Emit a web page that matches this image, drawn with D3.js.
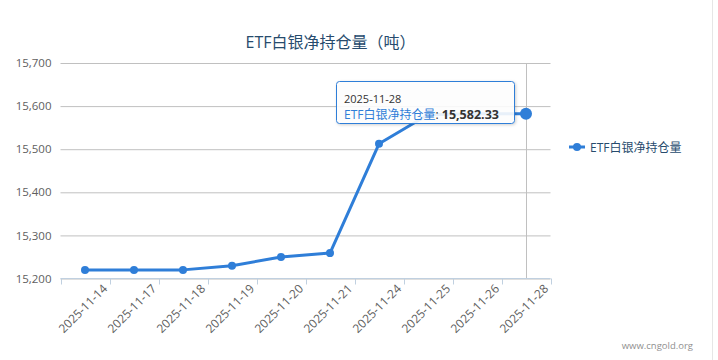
<!DOCTYPE html>
<html><head><meta charset="utf-8">
<script src="https://cdn.jsdelivr.net/npm/d3@7"></script>
<style>
html,body{margin:0;padding:0;background:#fff;}
svg{display:block;}
</style>
</head><body>
<svg id="chart" width="718" height="360"></svg>
<script>
const categories = ["2025-11-14","2025-11-17","2025-11-18","2025-11-19","2025-11-20","2025-11-21","2025-11-24","2025-11-25","2025-11-26","2025-11-28"];
const values = [15220.0, 15220.0, 15220.0, 15229.5, 15250.0, 15259.0, 15512.5, 15580.0, 15582.33, 15582.33];
const yTicks = [15200, 15300, 15400, 15500, 15600, 15700];
const seriesName = "ETF白银净持仓量";
const titleText = "ETF白银净持仓量（吨）";
const hoverIndex = 9;

const latin = "'Segoe UI', 'Open Sans', 'Liberation Sans', Arial, sans-serif";
const cjk = "'Segoe UI', 'Open Sans', 'Noto Sans CJK SC', sans-serif";
const color = "#2f7ed8";

const svg = d3.select("#chart");
const m = {left: 60.5, right: 550.5, top: 63, bottom: 278.5};

const x = d3.scaleBand().domain(categories).range([m.left, m.right]);
const y = d3.scaleLinear().domain([15200, 15700]).range([m.bottom, m.top]);

// right border line
svg.append("line").attr("x1", 712.5).attr("x2", 712.5).attr("y1", 0).attr("y2", 360)
  .attr("stroke", "#e6e6e6").attr("stroke-width", 1);

// title
svg.append("text").attr("x", 330.5).attr("y", 48).attr("text-anchor", "middle")
  .style("font-family", cjk).style("font-size", "16px").style("fill", "#274b6d")
  .text(titleText);

// grid
const yAxis = d3.axisLeft(y).tickValues(yTicks).tickSize(-(m.right - m.left)).tickPadding(9)
  .tickFormat(d3.format(","));
const gy = svg.append("g").attr("transform", `translate(${m.left},0)`).call(yAxis);
gy.select(".domain").remove();
gy.selectAll(".tick line").attr("stroke", "#c0c0c0").attr("stroke-width", 1);
gy.selectAll(".tick text").style("font-family", latin).style("font-size", "11.5px").style("fill", "#606060");

// crosshair
const cx = Math.round(x(categories[hoverIndex]) + x.bandwidth()/2) + 0.5;
svg.append("line").attr("x1", cx).attr("x2", cx)
  .attr("y1", m.top).attr("y2", m.bottom).attr("stroke", "#c0c0c0").attr("stroke-width", 1);

// x axis
const xAxis = d3.axisBottom(x).tickSize(0).tickFormat("");
const gx = svg.append("g").attr("transform", `translate(0,${m.bottom})`).call(xAxis);
gx.select(".domain").attr("stroke", "#c0d0e0").attr("d", `M${m.left},0H${m.right}`);
// band boundary ticks
const bounds = categories.map(c => x(c)).concat([m.right]);
gx.selectAll("line.bt").data(bounds).enter().append("line").attr("class","bt")
  .attr("x1", d => Math.round(d) + 0.5).attr("x2", d => Math.round(d) + 0.5)
  .attr("y1", 0).attr("y2", 6).attr("stroke", "#c0d0e0");
gx.selectAll("text.xl").data(categories).enter().append("text").attr("class","xl")
  .attr("transform", d => `translate(${x(d) + x.bandwidth()/2 + 23},${11}) rotate(-45)`)
  .attr("text-anchor", "end")
  .style("font-family", latin).style("font-size", "12px").style("fill", "#606060")
  .text(d => d);

// line
const pts = categories.map((c, i) => ({c, v: values[i], i}));
const line = d3.line().x(d => x(d.c) + x.bandwidth()/2).y(d => y(d.v));
svg.append("path").datum(pts).attr("d", line).attr("fill", "none")
  .attr("stroke", color).attr("stroke-width", 3).attr("stroke-linejoin", "round");
svg.selectAll("circle.pt").data(pts).enter().append("circle").attr("class","pt")
  .attr("cx", d => x(d.c) + x.bandwidth()/2).attr("cy", d => y(d.v))
  .attr("r", d => d.i === hoverIndex ? 6 : 4).attr("fill", color);

// legend
const lg = svg.append("g");
lg.append("line").attr("x1", 569).attr("x2", 585).attr("y1", 147).attr("y2", 147)
  .attr("stroke", color).attr("stroke-width", 3);
lg.append("circle").attr("cx", 577).attr("cy", 147).attr("r", 4).attr("fill", color);
lg.append("text").attr("x", 590).attr("y", 151.5)
  .style("font-family", cjk).style("font-size", "12px").style("fill", "#274b6d").text(seriesName);

// tooltip
const defs = svg.append("defs");
const f = defs.append("filter").attr("id","sh").attr("x","-10%").attr("y","-20%").attr("width","130%").attr("height","160%");
f.append("feDropShadow").attr("dx",1).attr("dy",1).attr("stdDeviation",1.5).attr("flood-color","#000").attr("flood-opacity",0.2);
const tt = svg.append("g");
tt.append("rect").attr("x", 336.5).attr("y", 81.5).attr("width", 178).attr("height", 42).attr("rx", 3)
  .attr("fill", "rgba(255,255,255,0.88)").attr("stroke", color).attr("stroke-width", 1).attr("filter","url(#sh)");
tt.append("text").attr("x", 344).attr("y", 102.5).style("font-family", latin).style("font-size", "11px")
  .style("fill", "#333").text(categories[hoverIndex]);
const t2 = tt.append("text").attr("x", 344).attr("y", 119).style("font-family", cjk).style("font-size", "12px");
t2.append("tspan").style("fill", color).text(seriesName);
t2.append("tspan").style("fill", "#333").text(": ");
t2.append("tspan").style("fill", "#333").style("font-weight", "bold").style("font-size","12.5px")
  .text(d3.format(",.2f")(values[hoverIndex]));

// credits
svg.append("text").attr("x", 693).attr("y", 349).attr("text-anchor", "end")
  .style("font-family", latin).style("font-size", "9.5px").style("fill", "#909090").text("www.cngold.org");
</script>
</body></html>
